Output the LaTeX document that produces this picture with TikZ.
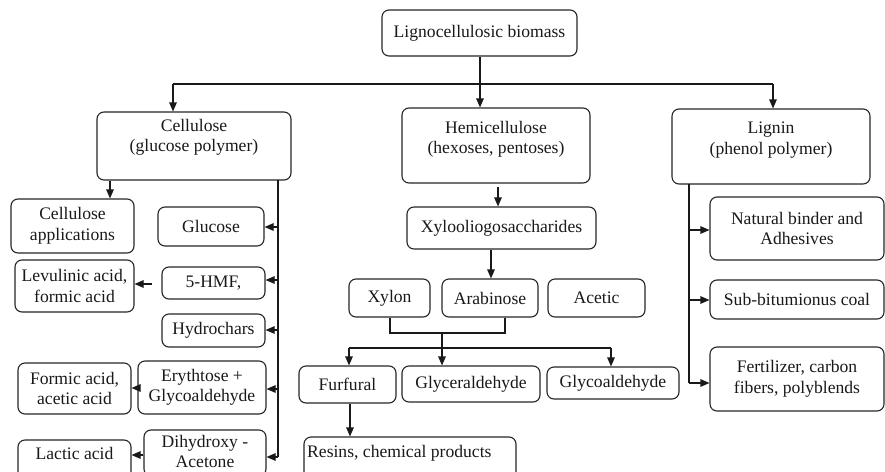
\documentclass[tikz,border=0pt]{standalone}
\usepackage{fontspec}
\setmainfont{Liberation Serif}
\usetikzlibrary{arrows.meta}
\begin{document}
\begin{tikzpicture}[x=1pt,y=-1pt,
  every node/.style={font=\fontsize{17.6pt}{20.5pt}\selectfont, text=black!90},
  box/.style={draw=black!85, line width=1.1pt, rounded corners=7pt, inner sep=0pt, align=center},
  txt/.style={inner sep=0pt, align=center},
  ln/.style={draw=black!90, line width=1.1pt},
  arr/.style={ln, -{Triangle[length=9pt,width=7.5pt]}}
]
\useasboundingbox (0,0) rectangle (885,471);
\clip (0,0) rectangle (885,471);
\fill[white] (0,0) rectangle (885,471);

% top level
\node[box, minimum width=195pt, minimum height=46pt] (top) at (479.5,33) {Lignocellulosic biomass};
\node[box, minimum width=194pt, minimum height=68pt] (cel) at (194,146) {};
\node[txt] (celt) at (194,137.5) {Cellulose\\(glucose polymer)};
\node[box, minimum width=188pt, minimum height=75pt] (hem) at (496,145.5) {};
\node[txt] (hemt) at (496,139.5) {Hemicellulose\\(hexoses, pentoses)};
\node[box, minimum width=198pt, minimum height=75pt] (lig) at (771,146.5) {};
\node[txt] (ligt) at (771,140) {Lignin\\(phenol polymer)};

\coordinate (jL) at (173,84);
\coordinate (jR) at (773,84);
\draw[ln] (jL) -- (jR);
\draw[arr] (jL) -- (jL |- cel.north);
\draw[arr] (jR) -- (jR |- lig.north);
\draw[arr] (top.south -| 480,0) -- (480,0 |- hem.north);

% cellulose branch
\node[box, minimum width=123pt, minimum height=54pt] (capp) at (72.5,226) {Cellulose\\applications};
\node[box, minimum width=106pt, minimum height=39pt] (glu) at (211,226.5) {Glucose};
\node[box, minimum width=119pt, minimum height=52pt] (lev) at (74.5,286) {Levulinic acid,\\formic acid};
\node[box, minimum width=103pt, minimum height=32pt] (hmf) at (213.5,283) {5-HMF,};
\node[box, minimum width=103pt, minimum height=33pt] (hyd) at (213.5,330.5) {Hydrochars};
\node[box, minimum width=113pt, minimum height=51pt] (for) at (74.5,388.5) {Formic acid,\\acetic acid};
\node[box, minimum width=128pt, minimum height=53pt] (ery) at (202,387.5) {Erythtose +\\Glycoaldehyde};
\node[box, minimum width=113pt, minimum height=44pt] (lac) at (74.5,462) {};
\node[txt] (lact) at (74.5,453) {Lactic acid};
\node[box, minimum width=122pt, minimum height=46pt] (dih) at (205,453) {};
\node[txt] (diht) at (205,451.5) {Dihydroxy -\\Acetone};

\draw[arr] (cel.south -| 110,0) -- (110,0 |- capp.north);
\coordinate (cv0) at (278,180);
\coordinate (cv1) at (278,457);
\draw[ln] (cv0) -- (cv1);
\draw[arr] (278,227) -- (glu.east |- 0,227);
\draw[arr] (278,280) -- (hmf.east |- 0,280);
\draw[arr] (278,330) -- (hyd.east |- 0,330);
\draw[arr] (278,389) -- (ery.east |- 0,389);
\draw[arr] (cv1) -- (dih.east |- cv1);
\coordinate (hmfw) at (152,284);
\draw[arr] (hmfw) -- (lev.east |- hmfw);
\draw[arr] (ery.west |- 0,388) -- (for.east |- 0,388);
\draw[arr] (dih.west |- 0,455) -- (lac.east |- 0,455);

% hemicellulose branch
\node[box, minimum width=189pt, minimum height=42pt] (xyl) at (501.5,228) {Xylooliogosaccharides};
\node[box, minimum width=81pt, minimum height=38pt] (xyn) at (389.5,298) {Xylon};
\node[box, minimum width=96pt, minimum height=38pt] (ara) at (490,298) {Arabinose};
\node[box, minimum width=97pt, minimum height=38pt] (ace) at (596.5,298) {Acetic};
\node[box, minimum width=97pt, minimum height=37pt] (fur) at (347.5,384.5) {Furfural};
\node[box, minimum width=138pt, minimum height=36pt] (gly) at (471,384) {Glyceraldehyde};
\node[box, minimum width=132pt, minimum height=32pt] (glc) at (613,383) {Glycoaldehyde};
\node[box, minimum width=212pt, minimum height=53pt] (res) at (410,463.5) {};
\node[txt, anchor=base west] (rest) at (307,457) {Resins, chemical products};

\coordinate (hs) at (498,187);
\draw[arr] (hs) -- (hs |- xyl.north);
\draw[arr] (xyl.south -| 491,0) -- (491,0 |- ara.north);
\coordinate (bk) at (442,333);
\draw[ln] (xyn.south -| 390,0) -- (390,333) -- (505,333) -- (ara.south -| 505,0);
\coordinate (hd) at (442,348);
\draw[ln] (bk) -- (hd);
\draw[arr] (hd) -- (hd |- gly.north);
\coordinate (hdL) at (349,348);
\coordinate (hdR) at (611,348);
\draw[ln] (hdL) -- (hdR);
\draw[arr] (hdL) -- (hdL |- fur.north);
\draw[arr] (hdR) -- (hdR |- glc.north);
\draw[arr] (fur.south -| 350,0) -- (350,0 |- res.north);

% lignin branch
\node[box, minimum width=174pt, minimum height=63pt] (nat) at (797,228.5) {Natural binder and\\Adhesives};
\node[box, minimum width=174pt, minimum height=39pt] (sub) at (797,299.5) {Sub-bitumionus coal};
\node[box, minimum width=174pt, minimum height=64pt] (fer) at (797,379) {Fertilizer, carbon\\fibers, polyblends};
\coordinate (lv0) at (689,184);
\coordinate (lv1) at (689,383);
\draw[ln] (lv0) -- (lv1);
\draw[arr] (689,230) -- (nat.west |- 0,230);
\draw[arr] (689,300) -- (sub.west |- 0,300);
\draw[arr] (lv1) -- (fer.west |- lv1);
\end{tikzpicture}
\end{document}
